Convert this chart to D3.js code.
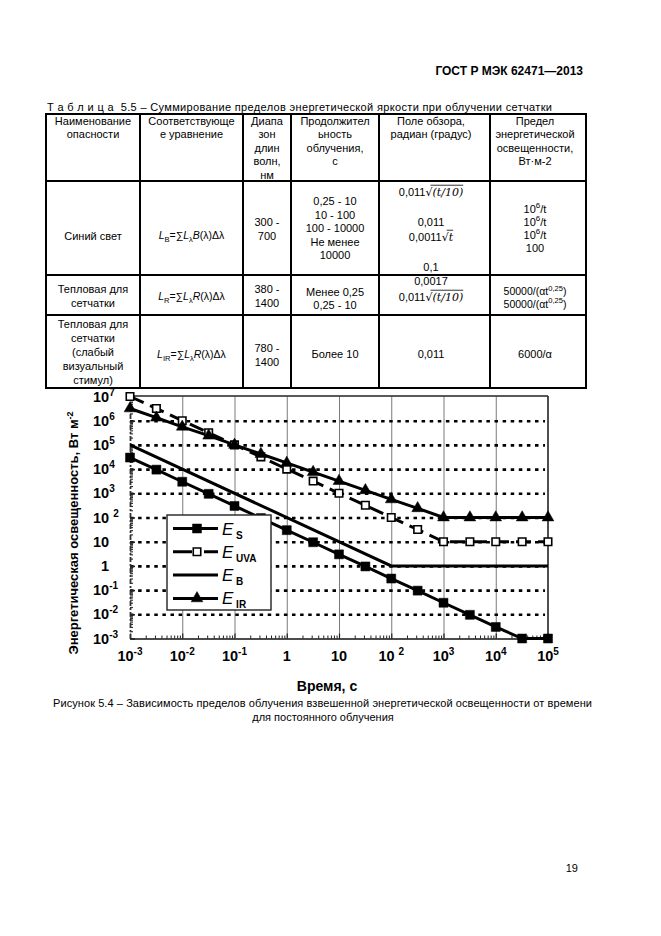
<!DOCTYPE html>
<html><head><meta charset="utf-8">
<script src="https://cdn.jsdelivr.net/npm/d3@7/dist/d3.min.js"></script>
<style>
html,body{margin:0;padding:0;background:#fff;}
svg{display:block;}
text{font-family:"Liberation Sans",Arial,sans-serif;fill:#000;white-space:pre;}
</style></head><body>
<svg id="page" width="661" height="936"></svg>
<script>
// ---------- chart data ----------
const times = [0.001,0.0032,0.01,0.032,0.1,0.32,1,3.2,10,32,100,320,1000,3200,10000,32000,100000];
const eS   = [30000,9500,3000,950,300,95,30,9.5,3,0.95,0.3,0.095,0.03,0.0095,0.003,0.001,0.001];
const eUVA = [1e7,3.2e6,1e6,3.2e5,1e5,3.2e4,1e4,3200,1000,320,100,32,10,10,10,10,10];
const eIR  = [3.2e6,1.33e6,5.6e5,2.4e5,1e5,4.2e4,1.8e4,7500,3200,1330,560,240,100,100,100,100,100];
const eBtimes = [0.001,100,100000];
const eB      = [100000,1,1];
const seriesNames = ["S","UVA","B","IR"];
const xTicks = [1e-3,1e-2,1e-1,1,10,100,1e3,1e4,1e5];
const xTickLabels = [["10","-3"],["10","-2"],["10","-1"],["1",""],["10",""],["10 ","2"],["10","3"],["10","4"],["10","5"]];
const yTicks = [1e-3,1e-2,1e-1,1,10,100,1e3,1e4,1e5,1e6,1e7];
const yTickLabels = [["10","-3"],["10","-2"],["10","-1"],["1",""],["10",""],["10 ","2"],["10","3"],["10","4"],["10","5"],["10","6"],["10","7"]];
const yTitle = "Энергетическая освещенность, Вт м";
const xTitle = "Время, с";
const figCaption1 = "Рисунок 5.4 – Зависимость пределов облучения взвешенной энергетической освещенности от времени";
const figCaption2 = "для постоянного облучения";

// ---------- table text ----------
const docHeader = "ГОСТ Р МЭК 62471—2013";
const pageNumber = "19";
const tableCaption = "Т а б л и ц а  5.5 – Суммирование пределов энергетической яркости при облучении сетчатки";
const headCells = [
  ["Наименование","опасности"],
  ["Соответствующе","е уравнение"],
  ["Диапа","зон","длин","волн,","нм"],
  ["Продолжител","ьность","облучения,","с"],
  ["Поле обзора,","радиан (градус)"],
  ["Предел","энергетической","освещенности,","Вт·м-2"]
];

const svg = d3.select("#page");
const T = (g,x,y,s,o={})=>{const t=g.append("text").attr("x",x).attr("y",y).attr("font-size",o.size||11).text(s);
  if(o.anchor) t.attr("text-anchor",o.anchor); if(o.bold) t.attr("font-weight","bold");
  if(o.len) t.attr("textLength",o.len).attr("lengthAdjust","spacing"); return t;};

// rich text helper: segs = [[str,{i,sub,sup,serif,ov}]]
function rich(g,cx,by,segs,size=11){
  const t=g.append("text").attr("x",cx).attr("y",by).attr("text-anchor","middle").attr("font-size",size);
  let shift=0;
  segs.forEach(([str,f={}])=>{
    const ts=t.append("tspan").text(str);
    let target=0;
    if(f.sub) target=size*0.3;
    if(f.sup) target=-size*0.42;
    if(target-shift!==0) ts.attr("dy",target-shift);
    shift=target;
    if(f.sub||f.sup) ts.attr("font-size",size*0.72);
    if(f.i) ts.attr("font-style","italic");
    if(f.serif) ts.attr("font-family","'DejaVu Serif','Liberation Serif',serif");
    if(f.sym) ts.attr("font-family","'DejaVu Sans',sans-serif");
  });
  const node=t.node(); const bx=node.getBBox().x; let idx=0;
  segs.forEach(([str,f={}])=>{
    if(f.ov){
      const x0=bx+node.getSubStringLength(0,idx)-2, w=node.getSubStringLength(idx,str.length)+2;
      g.append("line").attr("x1",x0).attr("x2",x0+w).attr("y1",by-size*0.98).attr("y2",by-size*0.98).attr("stroke","#000").attr("stroke-width",0.8);
    }
    idx+=str.length;
  });
  return t;
}

// header & page number
T(svg,583,75,docHeader,{anchor:"end",bold:true,size:12});
T(svg,578,872,pageNumber,{anchor:"end",size:11});

// ---------- table ----------
const tg=svg.append("g");
const colX=[46,140,243,291,379,490,586];
const rowY=[114,181,275,315,388];
T(tg,47,111,tableCaption,{size:11,len:505});
rowY.forEach(yy=>tg.append("line").attr("x1",colX[0]-1).attr("x2",colX[6]+1).attr("y1",yy).attr("y2",yy).attr("stroke","#000").attr("stroke-width",2));
colX.forEach(xx=>tg.append("line").attr("x1",xx).attr("x2",xx).attr("y1",rowY[0]).attr("y2",rowY[4]).attr("stroke","#000").attr("stroke-width",2));
const cc=[93,191.5,267,335,431,535];
headCells.forEach((lines,i)=>lines.forEach((s,j)=>T(tg,cc[i],124.5+13.5*j,s,{anchor:"middle"})));
// row: blue light
T(tg,cc[0],240,"Синий свет",{anchor:"middle"});
rich(tg,cc[1],239,[["L",{i:1}],["B",{sub:1}],["=∑"],["L",{i:1}],["λ",{sub:1}],["B",{i:1}],["(λ)Δλ"]],10.5);
["300 -","700"].forEach((s,j)=>T(tg,cc[2],226+14*j,s,{anchor:"middle"}));
["0,25 - 10","10 - 100","100 - 10000","Не менее","10000"].forEach((s,j)=>T(tg,cc[3],205+13.5*j,s,{anchor:"middle"}));
rich(tg,cc[4],196,[["0,011"],["√",{sym:1}],["(t/10)",{serif:1,i:1,ov:1}]]);
T(tg,cc[4],226,"0,011",{anchor:"middle"});
rich(tg,cc[4],241,[["0,0011"],["√",{sym:1}],["t",{serif:1,i:1,ov:1}]]);
T(tg,cc[4],271,"0,1",{anchor:"middle"});
[0,1,2].forEach(j=>rich(tg,cc[5],213+13*j,[["10"],["6",{sup:1}],["/t"]]));
T(tg,cc[5],252,"100",{anchor:"middle"});
// row: thermal
["Тепловая для","сетчатки"].forEach((s,j)=>T(tg,cc[0],293+13.5*j,s,{anchor:"middle"}));
rich(tg,cc[1],300,[["L",{i:1}],["R",{sub:1}],["=∑"],["L",{i:1}],["λ",{sub:1}],["R",{i:1}],["(λ)Δλ"]],10.5);
["380 -","1400"].forEach((s,j)=>T(tg,cc[2],293+13.5*j,s,{anchor:"middle"}));
["Менее 0,25","0,25 - 10"].forEach((s,j)=>T(tg,cc[3],296+12.5*j,s,{anchor:"middle"}));
T(tg,cc[4],285,"0,0017",{anchor:"middle"});
rich(tg,cc[4],301,[["0,011"],["√",{sym:1}],["(t/10)",{serif:1,i:1,ov:1}]]);
[0,1].forEach(j=>rich(tg,cc[5],295+12.5*j,[["50000/(αt"],["0,25",{sup:1}],[")"]],10.5));
// row: thermal weak
["Тепловая для","сетчатки","(слабый","визуальный","стимул)"].forEach((s,j)=>T(tg,cc[0],328+14*j,s,{anchor:"middle"}));
rich(tg,cc[1],358,[["L",{i:1}],["IR",{sub:1}],["=∑"],["L",{i:1}],["λ",{sub:1}],["R",{i:1}],["(λ)Δλ"]],10.5);
["780 -","1400"].forEach((s,j)=>T(tg,cc[2],352+14*j,s,{anchor:"middle"}));
T(tg,cc[3],358,"Более 10",{anchor:"middle"});
T(tg,cc[4],358,"0,011",{anchor:"middle"});
T(tg,cc[5],358,"6000/α",{anchor:"middle"});

// ---------- chart ----------
const x=d3.scaleLog().domain([1e-3,1e5]).range([130,548]);
const y=d3.scaleLog().domain([1e-3,1e7]).range([638.5,396.5]);
const cg=svg.append("g");
const [x0,x1]=x.range(), [y0,y1]=y.range();

cg.append("g").attr("transform",`translate(0,${y0})`)
  .call(d3.axisBottom(x).tickValues(xTicks.slice(1,-1)).tickSize(-(y0-y1)).tickFormat(""))
  .call(g=>g.select(".domain").remove())
  .call(g=>g.selectAll("line").attr("stroke","#7a7a7a").attr("stroke-width",1));
cg.append("g").attr("transform",`translate(${x0},0)`)
  .call(d3.axisLeft(y).tickValues(yTicks.slice(1,-1)).tickSize(-(x1-x0-3)).tickFormat(""))
  .call(g=>g.select(".domain").remove())
  .call(g=>g.selectAll("line").attr("stroke","#000").attr("stroke-width",2.6).attr("stroke-dasharray","3.5,4.6"));
cg.append("line").attr("x1",x0).attr("x2",x1).attr("y1",y1-0.5).attr("y2",y1-0.5).attr("stroke","#222").attr("stroke-width",1.6);
cg.append("line").attr("x1",x1).attr("x2",x1).attr("y1",y1-0.5).attr("y2",y0).attr("stroke","#222").attr("stroke-width",1.6);

const minorX=[], minorY=[];
xTicks.slice(0,-1).forEach(d=>{for(let k=2;k<10;k++) minorX.push(d*k);});
yTicks.slice(0,-1).forEach(d=>{for(let k=2;k<10;k++) minorY.push(d*k);});
cg.append("g").attr("transform",`translate(0,${y0})`)
  .call(d3.axisBottom(x).tickValues(minorX).tickSize(-3).tickFormat("").tickSizeOuter(0))
  .call(g=>g.select(".domain").attr("stroke","#111").attr("stroke-width",1.6))
  .call(g=>g.selectAll("line").attr("stroke","#222").attr("stroke-width",1));
cg.append("g").attr("transform",`translate(0,${y0})`)
  .call(d3.axisBottom(x).tickValues(xTicks).tickSize(-5).tickFormat("").tickSizeOuter(0))
  .call(g=>g.select(".domain").remove())
  .call(g=>g.selectAll("line").attr("stroke","#222").attr("stroke-width",1.2));
cg.append("g").attr("transform",`translate(${x0},0)`)
  .call(d3.axisLeft(y).tickValues(minorY).tickSize(-3).tickFormat("").tickSizeOuter(0))
  .call(g=>g.select(".domain").attr("stroke","#333").attr("stroke-width",1.8).attr("stroke-dasharray","5,2,2,2"))
  .call(g=>g.selectAll("line").attr("stroke","#333").attr("stroke-width",1.2));
cg.append("g").attr("transform",`translate(${x0},0)`)
  .call(d3.axisLeft(y).tickValues(yTicks).tickSize(-5).tickFormat("").tickSizeOuter(0))
  .call(g=>g.select(".domain").remove())
  .call(g=>g.selectAll("line").attr("stroke","#222").attr("stroke-width",1.6));

yTicks.forEach((d,i)=>{
  const [b,s]=yTickLabels[i];
  const t=cg.append("text").attr("x",b==="1"?101:93).attr("y",y(d)+5).attr("font-size",14.5).attr("font-weight","bold");
  t.append("tspan").text(b);
  if(s) t.append("tspan").attr("dy",-6).attr("font-size",10).text(s);
});
xTicks.forEach((d,i)=>{
  const [b,s]=xTickLabels[i];
  const t=cg.append("text").attr("x",x(d)).attr("y",661).attr("text-anchor","middle").attr("font-size",14.5).attr("font-weight","bold");
  t.append("tspan").text(b);
  if(s) t.append("tspan").attr("dy",-6).attr("font-size",10).text(s);
});
const yt=cg.append("text").attr("transform","translate(78,533) rotate(-90)").attr("text-anchor","middle").attr("font-size",13).attr("font-weight","bold");
yt.append("tspan").text(yTitle);
yt.append("tspan").attr("dy",-5).attr("font-size",9).text("-2");
T(cg,327,691,xTitle,{anchor:"middle",bold:true,size:14});
T(svg,322.5,707,figCaption1,{anchor:"middle",size:11,len:539});
T(svg,323,721,figCaption2,{anchor:"middle",size:11});

const line=d3.line().x(d=>x(d[0])).y(d=>y(d[1]));
const data={
  S:times.map((t,i)=>[t,eS[i]]),
  UVA:times.map((t,i)=>[t,eUVA[i]]),
  B:eBtimes.map((t,i)=>[t,eB[i]]),
  IR:times.map((t,i)=>[t,eIR[i]])
};
const styles={
  S:{dash:null, sym:d3.symbolSquare, size:81, fill:"#000"},
  UVA:{dash:"15,7", sym:d3.symbolSquare, size:56, fill:"#fff"},
  B:{dash:null, sym:null},
  IR:{dash:null, sym:d3.symbolTriangle, size:60, fill:"#000"}
};
const sg=cg.append("g");
seriesNames.forEach(n=>{
  const p=sg.append("path").datum(data[n]).attr("d",line).attr("fill","none").attr("stroke","#000").attr("stroke-width",3);
  if(styles[n].dash) p.attr("stroke-dasharray",styles[n].dash);
});
seriesNames.forEach(n=>{
  const st=styles[n]; if(!st.sym) return;
  sg.selectAll(null).data(data[n]).join("path")
    .attr("transform",d=>`translate(${x(d[0])},${y(d[1])})`)
    .attr("d",d3.symbol().type(st.sym).size(st.size))
    .attr("fill",st.fill).attr("stroke","#000").attr("stroke-width",st.fill==="#fff"?1.6:0.5);
});

const lg=cg.append("g");
lg.append("rect").attr("x",167).attr("y",515).attr("width",104).attr("height",95).attr("fill","#fff").attr("stroke","#222").attr("stroke-width",1.4);
seriesNames.forEach((n,i)=>{
  const yy=528.5+23.3*i, st=styles[n];
  const l=lg.append("line").attr("x1",173).attr("x2",218).attr("y1",yy).attr("y2",yy).attr("stroke","#000").attr("stroke-width",3);
  if(n==="UVA") l.attr("stroke-dasharray","19,12,14");
  if(st.sym) lg.append("path").attr("transform",`translate(197,${yy})`).attr("d",d3.symbol().type(st.sym).size(st.size))
    .attr("fill",st.fill).attr("stroke","#000").attr("stroke-width",st.fill==="#fff"?1.6:0.5);
  const t=lg.append("text").attr("x",222).attr("y",yy+6).attr("font-size",17);
  t.append("tspan").attr("font-style","italic").text("E");
  t.append("tspan").attr("dy",4).attr("font-size",10).attr("font-weight","bold").text(" "+n);
});
</script>
</body></html>
